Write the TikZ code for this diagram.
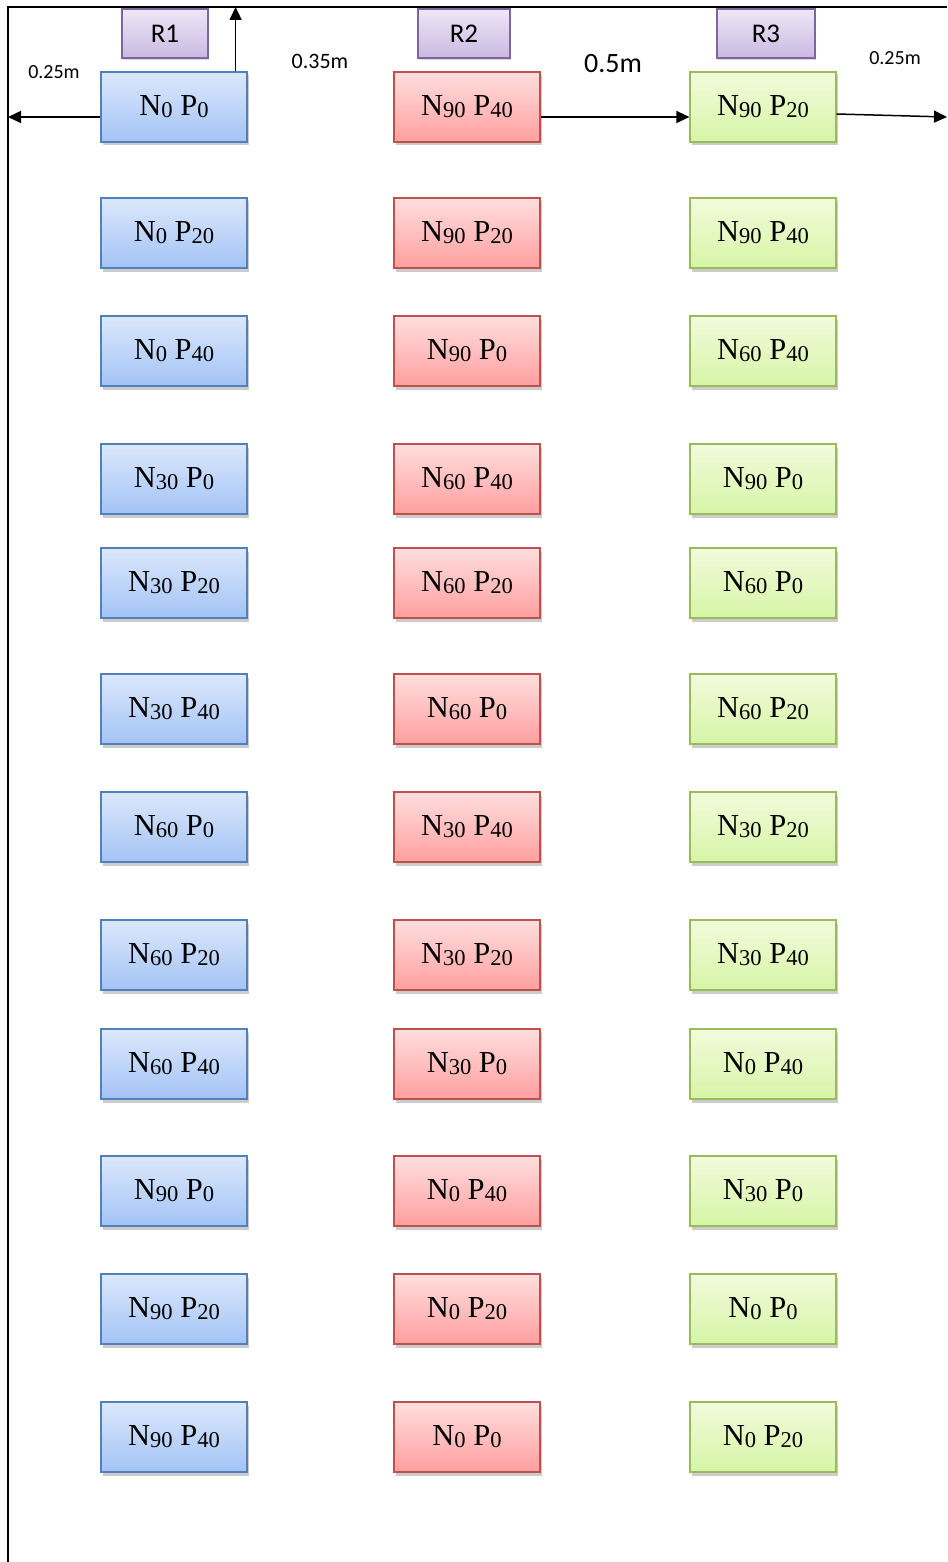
\documentclass[tikz,border=0pt]{standalone}
\usepackage{fontspec}
\usepackage{graphicx}
\setmainfont{Liberation Serif}
\newfontfamily\lblfont{Carlito}
\usetikzlibrary{shadows,arrows.meta}
\definecolor{bluetop}{HTML}{DCE8FC}
\definecolor{bluebot}{HTML}{A3C3F5}
\definecolor{blueedge}{HTML}{4F81BD}
\definecolor{redtop}{HTML}{FFDEDE}
\definecolor{redbot}{HTML}{FF9F9F}
\definecolor{rededge}{HTML}{C0504D}
\definecolor{greentop}{HTML}{F2FBDC}
\definecolor{greenbot}{HTML}{D6F5A6}
\definecolor{greenedge}{HTML}{9BBB59}
\definecolor{purptop}{HTML}{EEE8F6}
\definecolor{purpbot}{HTML}{CBB8E2}
\definecolor{purpedge}{HTML}{8064A2}
\newcommand\dg[1]{\raisebox{-0.06em}{\scalebox{0.74}{#1}}}
\newcommand\np[2]{\raisebox{3pt}{N\dg{#1} P\dg{#2}}}
\tikzset{
  plot/.style={draw, line width=1.2pt, minimum width=146pt, minimum height=70pt, inner sep=0pt,
    font=\fontsize{30.5}{33}\selectfont,
    drop shadow={opacity=0.4, shadow xshift=1.5pt, shadow yshift=-3.5pt}},
  bluebox/.style={plot, draw=blueedge, top color=bluetop, bottom color=bluebot},
  redbox/.style={plot, draw=rededge, top color=redtop, bottom color=redbot},
  greenbox/.style={plot, draw=greenedge, top color=greentop, bottom color=greenbot},
  repbox/.style={draw=purpedge, line width=1.2pt, top color=purptop, bottom color=purpbot,
    minimum height=49pt, inner sep=0pt, font=\lblfont\fontsize{27}{29}\selectfont,
    drop shadow={opacity=0.3, shadow xshift=1pt, shadow yshift=-2pt}},
  dimlbl/.style={font=\lblfont\fontsize{20}{22}\selectfont, inner sep=0pt},
  arr/.style={line width=1.5pt, -{Triangle[length=13pt,width=12pt]}},
  frame/.style={line width=1.2pt}
}
\begin{document}
\begin{tikzpicture}[x=1pt,y=-1pt]
\useasboundingbox (0,0) rectangle (947,1562);
\fill[white] (0,0) rectangle (947,1562);
\coordinate (TL) at (8,7);
\coordinate (BL) at (8,1562);
\coordinate (TR) at (947,7);
\coordinate (E) at (947,117);
\draw[frame] (BL) -- (TL) -- (TR);
\foreach \y/\a/\b/\c/\d/\e/\f [count=\i] in {
  107/0/0/90/40/90/20,
  233/0/20/90/20/90/40,
  351/0/40/90/0/60/40,
  479/30/0/60/40/90/0,
  583/30/20/60/20/60/0,
  709/30/40/60/0/60/20,
  827/60/0/30/40/30/20,
  955/60/20/30/20/30/40,
  1064/60/40/30/0/0/40,
  1191/90/0/0/40/30/0,
  1309/90/20/0/20/0/0,
  1437/90/40/0/0/0/20}{
  \node[bluebox] (b\i) at (174,\y) {\np{\a}{\b}};
  \node[redbox] (r\i) at (467,\y) {\np{\c}{\d}};
  \node[greenbox] (g\i) at (763,\y) {\np{\e}{\f}};
}
\node[repbox, minimum width=86pt] (p1) at (165,33.5) {R1};
\node[repbox, minimum width=92pt] (p2) at (464,33.5) {R2};
\node[repbox, minimum width=98pt] (p3) at (766,33.5) {R3};
\draw[arr] ([yshift=-10pt]b1.west) -- ([yshift=-10pt]b1.west -| TL);
\draw[arr] ([xshift=-12pt]b1.north east) -- ([xshift=-12pt]b1.north east |- TL);
\draw[arr] ([yshift=-10pt]r1.east) -- ([yshift=-10pt]r1.east -| g1.west);
\draw[arr] ([yshift=-7pt]g1.east) -- (E);
\node[dimlbl] (l1) at (54,72) {0.25m};
\node[dimlbl, font=\lblfont\fontsize{22}{24}\selectfont] (l2) at (320,61) {0.35m};
\node[dimlbl, font=\lblfont\fontsize{28}{30}\selectfont] (l3) at (613,64) {0.5m};
\node[dimlbl] (l4) at (895,58) {0.25m};
\end{tikzpicture}
\end{document}
